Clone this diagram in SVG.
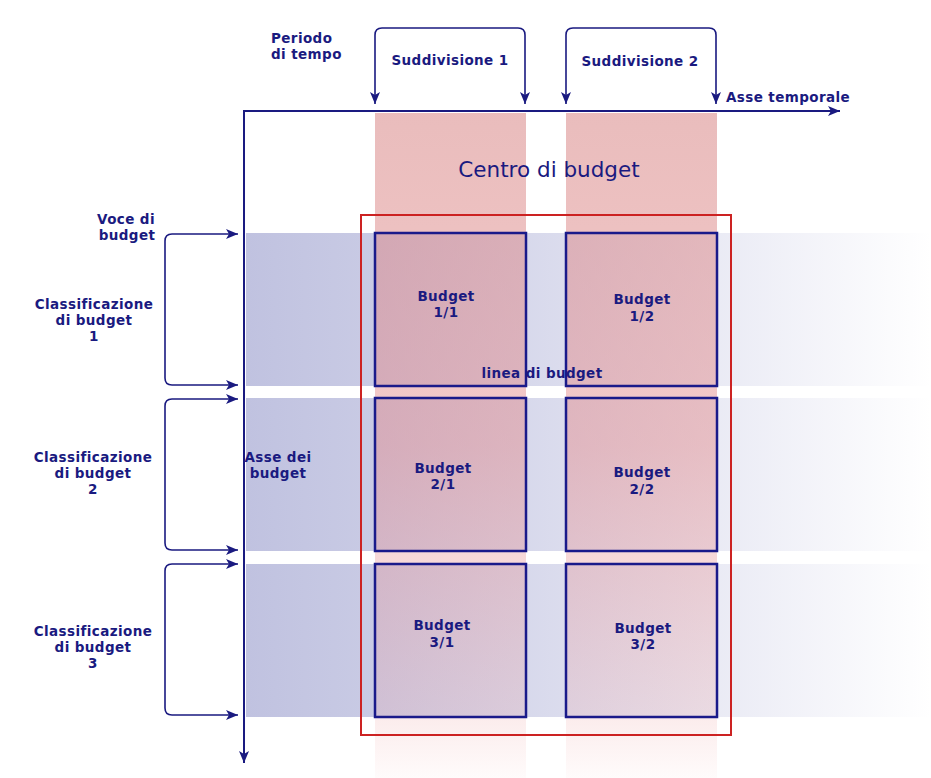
<svg xmlns="http://www.w3.org/2000/svg" width="931" height="778" viewBox="0 0 931 778">
<defs>
<linearGradient id="blueBand" x1="246" y1="0" x2="931" y2="0" gradientUnits="userSpaceOnUse">
<stop offset="0" stop-color="#c0c2e0" stop-opacity="1"/>
<stop offset="0.2" stop-color="#c0c2e0" stop-opacity="0.85"/>
<stop offset="1" stop-color="#c0c2e0" stop-opacity="0"/>
</linearGradient>
<linearGradient id="pinkCol" x1="0" y1="113" x2="0" y2="778" gradientUnits="userSpaceOnUse">
<stop offset="0" stop-color="#d88686" stop-opacity="0.55"/>
<stop offset="0.5" stop-color="#e48888" stop-opacity="0.45"/>
<stop offset="0.9" stop-color="#ec9898" stop-opacity="0.2"/>
<stop offset="1" stop-color="#f09a9a" stop-opacity="0.04"/>
</linearGradient>
<marker id="ah" viewBox="0 0 12 10" refX="12" refY="5" markerWidth="12" markerHeight="10" markerUnits="userSpaceOnUse" orient="auto-start-reverse">
<path d="M0,0 L12,5 L0,10 L3,5 Z" fill="#1a1a80"/>
</marker>
<marker id="ahBig" viewBox="0 0 12 10" refX="12" refY="5" markerWidth="12" markerHeight="10" markerUnits="userSpaceOnUse" orient="auto">
<path d="M0,0 L12,5 L0,10 L3,5 Z" fill="#1a1a80"/>
</marker>
</defs>
<style>
.t{font-family:"DejaVu Sans","Liberation Sans",sans-serif;font-weight:bold;font-size:13.5px;letter-spacing:0.4px;fill:#1a1a80}
.m{text-anchor:middle}
.big{font-family:"DejaVu Sans","Liberation Sans",sans-serif;font-size:21.5px;fill:#1a1a80;text-anchor:middle}
.cell{fill:none;stroke:#1a1a8a;stroke-width:2.5}
.conn{fill:none;stroke:#1a1a80;stroke-width:1.6}
.axis{fill:none;stroke:#1a1a80;stroke-width:2}
</style>
<rect width="931" height="778" fill="#ffffff"/>
<g id="bands">
<rect x="246" y="233" width="685" height="153" fill="url(#blueBand)"/>
<rect x="246" y="398" width="685" height="153" fill="url(#blueBand)"/>
<rect x="246" y="564" width="685" height="153" fill="url(#blueBand)"/>
</g>
<g id="columns">
<rect x="375" y="113" width="151" height="665" fill="url(#pinkCol)"/>
<rect x="566" y="113" width="151" height="665" fill="url(#pinkCol)"/>
</g>
<g id="centro-di-budget">
<rect x="361" y="215" width="370" height="520" fill="none" stroke="#cc2222" stroke-width="2"/>
<text class="big" x="549" y="177">Centro di budget</text>
</g>
<g id="budget-1-1"><rect class="cell" x="375" y="233" width="151" height="153"/><text class="t m" x="446" y="301">Budget</text><text class="t m" x="446" y="317">1/1</text></g>
<g id="budget-1-2"><rect class="cell" x="566" y="233" width="151" height="153"/><text class="t m" x="642" y="304">Budget</text><text class="t m" x="642" y="321">1/2</text></g>
<g id="budget-2-1"><rect class="cell" x="375" y="398" width="151" height="153"/><text class="t m" x="443" y="473">Budget</text><text class="t m" x="443" y="489">2/1</text></g>
<g id="budget-2-2"><rect class="cell" x="566" y="398" width="151" height="153"/><text class="t m" x="642" y="477">Budget</text><text class="t m" x="642" y="494">2/2</text></g>
<g id="budget-3-1"><rect class="cell" x="375" y="564" width="151" height="153"/><text class="t m" x="442" y="630">Budget</text><text class="t m" x="442" y="647">3/1</text></g>
<g id="budget-3-2"><rect class="cell" x="566" y="564" width="151" height="153"/><text class="t m" x="643" y="633">Budget</text><text class="t m" x="643" y="649">3/2</text></g>
<g id="linea-di-budget"><text class="t m" x="542" y="378">linea di budget</text></g>
<g id="connectors">
<path class="axis" d="M243,111 H840" marker-end="url(#ahBig)"/>
<path class="axis" d="M244,110 V763" marker-end="url(#ahBig)"/>
<path class="conn" d="M375,104 V35 Q375,28 382,28 H518 Q525,28 525,35 V104" marker-start="url(#ah)" marker-end="url(#ah)"/>
<path class="conn" d="M566,104 V35 Q566,28 573,28 H709 Q716,28 716,35 V104" marker-start="url(#ah)" marker-end="url(#ah)"/>
<path class="conn" d="M238,234 H172 Q165,234 165,241 V378 Q165,385 172,385 H238" marker-start="url(#ah)" marker-end="url(#ah)"/>
<path class="conn" d="M238,399 H172 Q165,399 165,406 V543 Q165,550 172,550 H238" marker-start="url(#ah)" marker-end="url(#ah)"/>
<path class="conn" d="M238,564 H172 Q165,564 165,571 V708 Q165,715 172,715 H238" marker-start="url(#ah)" marker-end="url(#ah)"/>
</g>
<g id="periodo-di-tempo"><text class="t" x="271" y="43">Periodo</text><text class="t" x="271" y="59">di tempo</text></g>
<g id="suddivisione-1"><text class="t m" x="450" y="65">Suddivisione 1</text></g>
<g id="suddivisione-2"><text class="t m" x="640" y="66">Suddivisione 2</text></g>
<g id="asse-temporale"><text class="t" x="726" y="102">Asse temporale</text></g>
<g id="voce-di-budget"><text class="t m" x="126" y="224">Voce di</text><text class="t m" x="127" y="240">budget</text></g>
<g id="classificazione-1"><text class="t m" x="94" y="309">Classificazione</text><text class="t m" x="94" y="325">di budget</text><text class="t m" x="94" y="341">1</text></g>
<g id="classificazione-2"><text class="t m" x="93" y="462">Classificazione</text><text class="t m" x="93" y="478">di budget</text><text class="t m" x="93" y="494">2</text></g>
<g id="classificazione-3"><text class="t m" x="93" y="636">Classificazione</text><text class="t m" x="93" y="652">di budget</text><text class="t m" x="93" y="668">3</text></g>
<g id="asse-dei-budget"><text class="t m" x="278" y="462">Asse dei</text><text class="t m" x="278" y="478">budget</text></g>
</svg>
